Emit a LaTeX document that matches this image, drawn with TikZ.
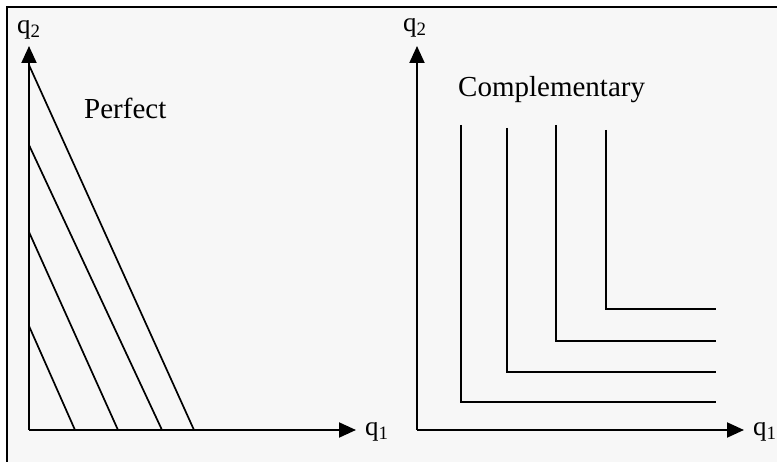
\documentclass[tikz,border=0pt]{standalone}
\usepackage{fontspec}
\setmainfont{Liberation Serif}
\usetikzlibrary{arrows.meta}
\begin{document}
\begin{tikzpicture}[x=1pt,y=-1pt,
  axis/.style={line width=2pt,-{Triangle[length=17pt,width=15pt]}},
  curve/.style={line width=1.7pt},
  lbl/.style={inner sep=0pt,font=\fontsize{29}{30}\selectfont},
  qlbl/.style={inner sep=0pt,font=\fontsize{27}{28}\selectfont}]
\useasboundingbox (0,0) rectangle (777,462);
\fill[white] (0,0) rectangle (777,462);
\fill[black!3] (7,7) rectangle (777,462);
\draw[line width=1.8pt] (7,462) -- (7,7) -- (777,7);
% left panel
\coordinate (o1) at (29,430);
\coordinate (y1) at (29,46);
\coordinate (x1) at (356,430);
\draw[axis] (o1) -- (y1);
\draw[axis] (o1) -- (x1);
\node[qlbl,anchor=west] (q2a) at (17,30) {q\textsubscript{2}};
\node[qlbl,anchor=west] (q1a) at (365,432) {q\textsubscript{1}};
\node[lbl,anchor=west] (perf) at (84,108) {Perfect};
\coordinate (a1) at (29,65);  \coordinate (b1) at (194,430);
\coordinate (a2) at (29,145); \coordinate (b2) at (162,430);
\coordinate (a3) at (29,232); \coordinate (b3) at (118,430);
\coordinate (a4) at (29,326); \coordinate (b4) at (75,430);
\foreach \i in {1,...,4} \draw[curve] (a\i) -- (b\i);
% right panel
\coordinate (o2) at (417,430);
\coordinate (y2) at (417,46);
\coordinate (x2) at (744,430);
\draw[axis] (o2) -- (y2);
\draw[axis] (o2) -- (x2);
\node[qlbl,anchor=west] (q2b) at (403,28) {q\textsubscript{2}};
\node[qlbl,anchor=west] (q1b) at (753,432) {q\textsubscript{1}};
\node[lbl,anchor=west] (comp) at (458,90) {Complementary};
\draw[curve] (461,125) -- (461,402) -- (716,402);
\draw[curve] (507,128) -- (507,372) -- (716,372);
\draw[curve] (556,125) -- (556,341) -- (716,341);
\draw[curve] (606,130) -- (606,309) -- (716,309);
\end{tikzpicture}
\end{document}
